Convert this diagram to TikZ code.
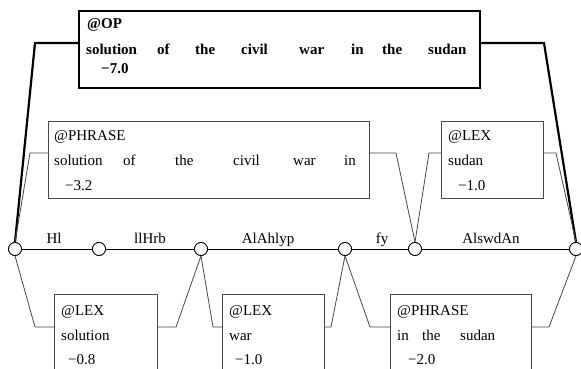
\documentclass[tikz,border=0pt]{standalone}
\usepackage{fontspec}
\setmainfont{Liberation Serif}
\usetikzlibrary{calc}
\begin{document}
\begin{tikzpicture}[x=1pt,y=-1pt,
  thinln/.style={draw=black!72, line width=0.8pt},
  thickln/.style={draw=black, line width=2.2pt},
  box/.style={thinln, inner sep=0pt, outer sep=0pt, anchor=north west},
  opbox/.style={thickln, inner sep=0pt, outer sep=0pt, anchor=north west},
  vtx/.style={circle, draw=black, line width=0.8pt, fill=white, minimum size=13pt, inner sep=0pt},
  txt/.style={anchor=base west, inner sep=0pt, font=\fontsize{15}{18}\selectfont},
  btxt/.style={anchor=base west, inner sep=0pt, font=\fontsize{15}{18}\selectfont\bfseries},
  lab/.style={anchor=base, inner sep=0pt, font=\fontsize{15}{18}\selectfont}]
\useasboundingbox (0,0) rectangle (581,369);
\clip (0,0) rectangle (581,369);
% boxes
\node[opbox, minimum width=401pt, minimum height=77pt] (op) at (79,11) {};
\node[box, minimum width=321pt, minimum height=77pt] (ph1) at (48,121) {};
\node[box, minimum width=102pt, minimum height=77pt] (lexs) at (441,121) {};
\node[box, minimum width=103pt, minimum height=120pt] (lex1) at (54,294) {};
\node[box, minimum width=102pt, minimum height=120pt] (lex2) at (222,294) {};
\node[box, minimum width=141pt, minimum height=120pt] (ph2) at (390,294) {};
% vertices
\node[vtx] (c0) at (15,249) {};
\node[vtx] (c1) at (99,249) {};
\node[vtx] (c2) at (201,249) {};
\node[vtx] (c3) at (345,249) {};
\node[vtx] (c4) at (415,249) {};
\node[vtx] (c5) at (576,249) {};
\draw[line width=0.8pt] (c0) -- (c1) -- (c2) -- (c3) -- (c4) -- (c5);
% connectors
\draw[thickln] ($(op.north west)+(0,32)$) -- ++(-44,0) -- (c0.north);
\draw[thickln] ($(op.north east)+(0,32)$) -- ++(64,0) -- (c5.north);
\draw[thinln] ($(ph1.north west)+(0,32)$) -- ++(-18,0) -- (c0.north);
\draw[thinln] ($(ph1.north east)+(0,32)$) -- ++(27,0) -- (c4.north);
\draw[thinln] ($(lexs.north west)+(0,32)$) -- ++(-12,0) -- (c4.north);
\draw[thinln] ($(lexs.north east)+(0,32)$) -- ++(13,0) -- (c5.north);
\draw[thinln] ($(lex1.north west)+(0,33)$) -- ++(-19,0) -- (c0.south);
\draw[thinln] ($(lex1.north east)+(0,33)$) -- ++(19,0) -- (c2.south);
\draw[thinln] ($(lex2.north west)+(0,33)$) -- ++(-9,0) -- (c2.south);
\draw[thinln] ($(lex2.north east)+(0,33)$) -- ++(7,0) -- (c3.south);
\draw[thinln] ($(ph2.north west)+(0,33)$) -- ++(-20,0) -- (c3.south);
\draw[thinln] ($(ph2.north east)+(0,33)$) -- ++(18,0) -- (c5.south);
% redraw vertices on top
\foreach \c in {c0,c1,c2,c3,c4,c5} \draw[line width=0.8pt, fill=white] (\c) circle (6.5pt);
% arc labels
\node[lab] (l1) at (54,243) {Hl};
\node[lab] (l2) at (150,243) {llHrb};
\node[lab] (l3) at (268,243) {AlAhlyp};
\node[lab] (l4) at (382,243) {fy};
\node[lab] (l5) at (491,243) {AlswdAn};
% OP text
\node[btxt] (o0) at (87,29) {@OP};
\node[btxt] (o1) at (86,55) {solution};
\node[btxt] (o2) at (157,55) {of};
\node[btxt] (o3) at (195,55) {the};
\node[btxt] (o4) at (241,55) {civil};
\node[btxt] (o5) at (299,55) {war};
\node[btxt] (o6) at (351,55) {in};
\node[btxt] (o7) at (382,55) {the};
\node[btxt] (o8) at (428,55) {sudan};
\node[btxt] (o9) at (101,74) {−7.0};
% PHRASE 1 text
\node[txt] (p0) at (54,140) {@PHRASE};
\node[txt] (p1) at (54,165) {solution};
\node[txt] (p2) at (123,165) {of};
\node[txt] (p3) at (175,165) {the};
\node[txt] (p4) at (233,165) {civil};
\node[txt] (p5) at (293,165) {war};
\node[txt] (p6) at (344,165) {in};
\node[txt] (p7) at (65,190) {−3.2};
% LEX sudan
\node[txt] (s0) at (448,140) {@LEX};
\node[txt] (s1) at (448,165) {sudan};
\node[txt] (s2) at (458,190) {−1.0};
% LEX solution
\node[txt] (a0) at (61,315) {@LEX};
\node[txt] (a1) at (61,340) {solution};
\node[txt] (a2) at (68,364) {−0.8};
% LEX war
\node[txt] (b0) at (229,315) {@LEX};
\node[txt] (b1) at (229,340) {war};
\node[txt] (b2) at (235,364) {−1.0};
% PHRASE 2
\node[txt] (d0) at (397,315) {@PHRASE};
\node[txt] (d1) at (397,340) {in};
\node[txt] (d2) at (422,340) {the};
\node[txt] (d3) at (460,340) {sudan};
\node[txt] (d4) at (408,364) {−2.0};
\end{tikzpicture}
\end{document}
